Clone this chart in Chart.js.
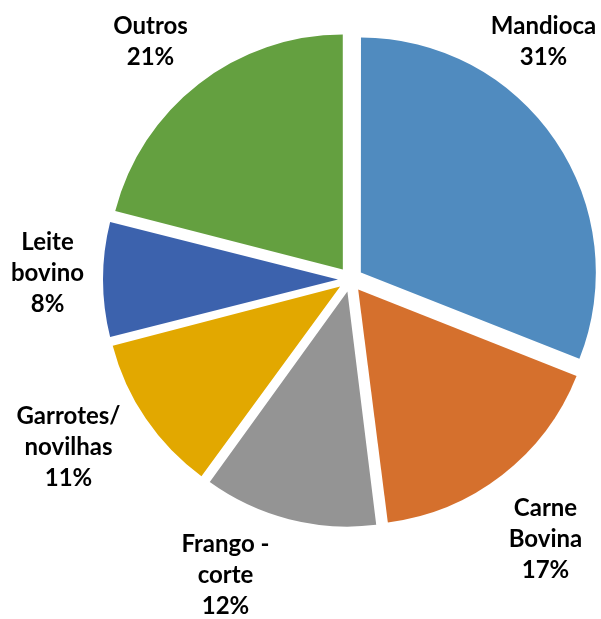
<!DOCTYPE html>
<html>
<head>
<meta charset="utf-8">
<script src="https://cdn.jsdelivr.net/npm/chart.js@4/dist/chart.umd.min.js"></script>
<style>
  html, body { margin: 0; padding: 0; background: #ffffff; }
  #wrap { width: 601px; height: 619px; position: relative; }
</style>
</head>
<body>
<div id="wrap"><canvas id="c" width="601" height="619"></canvas></div>
<script>
// Data
const categories = ["Mandioca", "Carne Bovina", "Frango - corte", "Garrotes/ novilhas", "Leite bovino", "Outros"];
const labelLines = [["Mandioca"], ["Carne", "Bovina"], ["Frango -", "corte"], ["Garrotes/", "novilhas"], ["Leite", "bovino"], ["Outros"]];
const shares = [31, 17, 12, 11, 8, 21];
const colors = ["#508BBF", "#D5702D", "#949494", "#E2A800", "#3C62AD", "#64A040"];
// label anchor offsets from the pie centre (layout only)
const labelOffsets = [[193, -238], [195, 260], [-125, 296], [-282, 168], [-303, -6], [-200, -238]];

const PIE_RADIUS = 235;
const EXPLODE = 50; // Chart.js translates each arc by offset/4 px

// Chart.js enlarges narrow exploded arcs by (offset/4)*(1-sin(circumference));
// cancel that so every slice keeps the same radius, as in the reference.
const equalRadiusPlugin = {
  id: 'equalRadius',
  beforeDatasetsDraw(chart) {
    const meta = chart.getDatasetMeta(0);
    meta.data.forEach(arc => {
      const circ = arc.endAngle - arc.startAngle;
      const fix = 1 - Math.sin(Math.min(Math.PI, circ));
      arc.outerRadius = PIE_RADIUS - (EXPLODE / 4) * fix;
    });
  }
};

const labelPlugin = {
  id: 'outerLabels',
  afterDatasetsDraw(chart) {
    const ctx = chart.ctx;
    const meta = chart.getDatasetMeta(0);
    const arc0 = meta.data[0];
    const cx = arc0.x, cy = arc0.y;
    const total = shares.reduce((a, b) => a + b, 0);
    ctx.save();
    ctx.font = 'bold 24px Lato, "Open Sans", sans-serif';
    ctx.fillStyle = '#000000';
    ctx.textAlign = 'center';
    ctx.textBaseline = 'middle';
    const lh = 31;
    shares.forEach((v, i) => {
      const lines = labelLines[i].concat([Math.round(v / total * 100) + '%']);
      const x = cx + labelOffsets[i][0];
      const y0 = cy + labelOffsets[i][1] - (lines.length - 1) * lh / 2;
      lines.forEach((t, k) => ctx.fillText(t, x, y0 + k * lh));
    });
    ctx.restore();
  }
};

new Chart(document.getElementById('c'), {
  type: 'pie',
  data: {
    labels: categories,
    datasets: [{
      data: shares,
      backgroundColor: colors,
      borderColor: '#ffffff',
      borderWidth: 0,
      offset: EXPLODE,
      hoverOffset: 0
    }]
  },
  options: {
    responsive: false,
    animation: false,
    radius: PIE_RADIUS,
    layout: { padding: { left: 100, right: 0, top: 0, bottom: 60 } },
    plugins: {
      legend: { display: false },
      tooltip: { enabled: false }
    }
  },
  plugins: [equalRadiusPlugin, labelPlugin]
});
</script>
</body>
</html>
